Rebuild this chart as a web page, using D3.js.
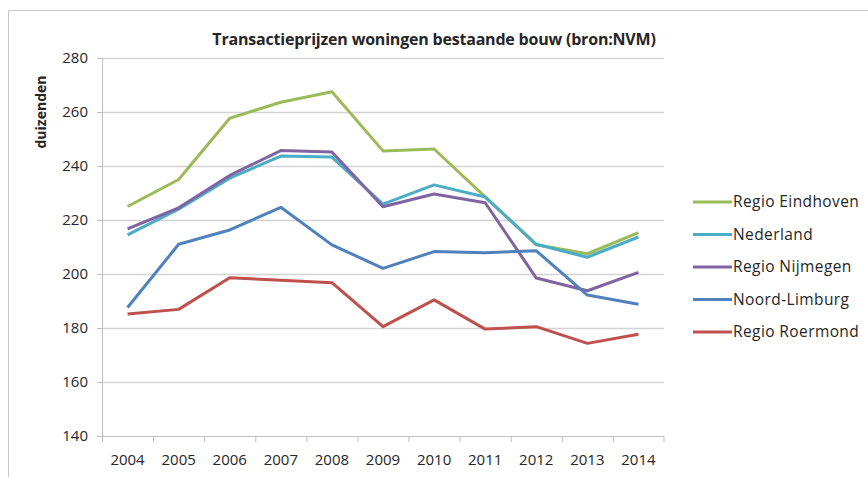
<!DOCTYPE html>
<html>
<head>
<meta charset="utf-8">
<script src="https://cdn.jsdelivr.net/npm/d3@7"></script>
<style>
  body { margin: 0; background: #fff; }
  svg text { font-family: "Open Sans", sans-serif; fill: #262626; }
</style>
</head>
<body>
<div id="main"></div>
<script>
const years = ["2004", "2005", "2006", "2007", "2008", "2009", "2010", "2011", "2012", "2013", "2014"];
const eindhoven = [225, 235, 257.7, 263.6, 267.5, 245.6, 246.3, 228.6, 210.8, 207.5, 215.3];
const nederland = [214.5, 224, 235.5, 243.7, 243.3, 225.9, 233, 228.5, 211, 206.2, 213.7];
const nijmegen = [216.7, 224.5, 236.5, 245.7, 245.2, 224.9, 229.6, 226.4, 198.5, 193.8, 200.6];
const noordLimburg = [187.6, 211, 216.3, 224.7, 210.8, 202.1, 208.3, 207.9, 208.6, 192.2, 188.8];
const roermond = [185.2, 186.9, 198.6, 197.7, 196.8, 180.5, 190.4, 179.6, 180.5, 174.3, 177.7];
const yTicks = [140, 160, 180, 200, 220, 240, 260, 280];

const seriesNames = ["Regio Eindhoven", "Nederland", "Regio Nijmegen", "Noord-Limburg", "Regio Roermond"];
const seriesValues = [eindhoven, nederland, nijmegen, noordLimburg, roermond];
const seriesColors = ["#9BBB59", "#4BACC6", "#8064A2", "#4F81BD", "#C0504D"];

const width = 868;
const height = 477;
const plot = { left: 102, right: 664, top: 58, bottom: 436 };

const svg = d3.select("#main")
    .append("svg")
    .attr("width", width)
    .attr("height", height);

// outer frame (top and left edges visible)
svg.append("path")
    .attr("d", "M8.5," + height + " L8.5,10.5 L" + width + ",10.5")
    .attr("fill", "none")
    .attr("stroke", "#c8c8c8")
    .attr("stroke-width", 1);

svg.append("text")
    .attr("x", 434)
    .attr("y", 45)
    .attr("text-anchor", "middle")
    .style("font-size", "16px")
    .style("font-weight", "bold")
    .style("letter-spacing", "-0.2px")
    .text("Transactieprijzen woningen bestaande bouw (bron:NVM)");

const xScale = d3.scaleBand()
    .domain(years)
    .range([plot.left, plot.right]);

const yScale = d3.scaleLinear()
    .domain([140, 280])
    .range([plot.bottom, plot.top]);

// gridlines
svg.append("g")
    .selectAll("line")
    .data(yTicks.slice(1))
    .enter()
    .append("line")
    .attr("x1", plot.left)
    .attr("x2", plot.right)
    .attr("y1", (d) => Math.round(yScale(d)) + 0.5)
    .attr("y2", (d) => Math.round(yScale(d)) + 0.5)
    .attr("stroke", "#d4d4d4")
    .attr("stroke-width", 1.5);

const yAxis = d3.axisLeft(yScale)
    .tickValues(yTicks)
    .tickSize(5)
    .tickPadding(9);

const gy = svg.append("g")
    .attr("transform", "translate(" + plot.left + ",0)")
    .style("font-size", "15px")
    .call(yAxis);
gy.selectAll("line, path").attr("stroke", "#bfbfbf");

const xAxis = d3.axisBottom(xScale)
    .tickSize(0)
    .tickPadding(18);

const gx = svg.append("g")
    .attr("transform", "translate(0," + plot.bottom + ")")
    .style("font-size", "15px")
    .call(xAxis);
gx.select(".domain").attr("stroke", "#bfbfbf").attr("d", "M" + plot.left + ",0.5H" + plot.right + "V6");

// category boundary tick marks
gx.append("g")
    .selectAll("line")
    .data(years)
    .enter()
    .append("line")
    .attr("x1", (d) => xScale(d) + 0.5)
    .attr("x2", (d) => xScale(d) + 0.5)
    .attr("y1", 0)
    .attr("y2", 6)
    .attr("stroke", "#bfbfbf");

svg.selectAll(".tick text").attr("fill", "#262626");

svg.append("text")
    .attr("transform", "translate(46,112) rotate(-90)")
    .attr("text-anchor", "middle")
    .style("font-size", "14px")
    .style("font-weight", "bold")
    .text("duizenden");

const line = d3.line()
    .x((d, i) => xScale(years[i]) + xScale.bandwidth() / 2)
    .y((d) => yScale(d));

seriesValues.forEach((vals, k) => {
    svg.append("path")
        .datum(vals)
        .attr("d", line)
        .attr("fill", "none")
        .attr("stroke", seriesColors[k])
        .attr("stroke-width", 3)
        .attr("stroke-linejoin", "round");
});

const legend = svg.append("g")
    .attr("transform", "translate(693,202)");

const items = legend.selectAll("g")
    .data(seriesNames)
    .enter()
    .append("g")
    .attr("transform", (d, i) => "translate(0," + i * 32.5 + ")");

items.append("line")
    .attr("x1", 0)
    .attr("x2", 39)
    .attr("stroke", (d, i) => seriesColors[i])
    .attr("stroke-width", 3);

items.append("text")
    .attr("x", 40)
    .attr("y", 5)
    .style("font-size", "15.5px")
    .style("letter-spacing", "0.4px")
    .text((d) => d);
</script>
</body>
</html>
